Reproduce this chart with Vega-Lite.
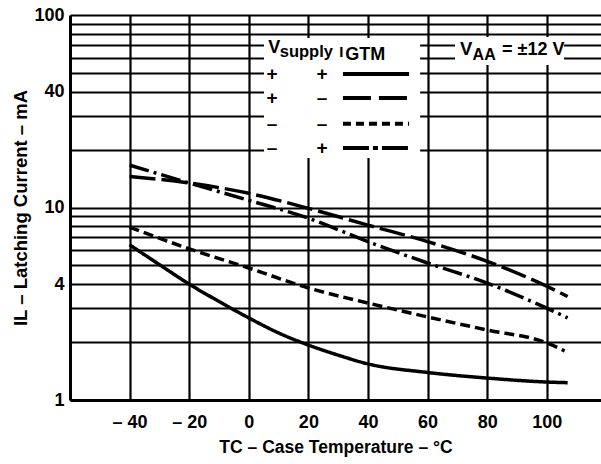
{
  "$schema": "https://vega.github.io/schema/vega-lite/v6.json",
  "width": 531,
  "height": 385,
  "autosize": {"type": "none"},
  "padding": {"left": 70, "top": 15, "right": 0, "bottom": 64},
  "background": "white",
  "config": {
    "view": {"stroke": null},
    "font": "Liberation Sans",
    "text": {"font": "Liberation Sans", "fontWeight": "bold", "color": "black"}
  },
  "layer": [
    {
      "data": {"values": [
        {"series": "+/+", "t": -40, "il": 6.4},
        {"series": "+/+", "t": -30, "il": 5.05},
        {"series": "+/+", "t": -20, "il": 4.0},
        {"series": "+/+", "t": -10, "il": 3.25},
        {"series": "+/+", "t": 0, "il": 2.67},
        {"series": "+/+", "t": 10, "il": 2.23},
        {"series": "+/+", "t": 20, "il": 1.93},
        {"series": "+/+", "t": 30, "il": 1.71},
        {"series": "+/+", "t": 40, "il": 1.54},
        {"series": "+/+", "t": 60, "il": 1.39},
        {"series": "+/+", "t": 80, "il": 1.30},
        {"series": "+/+", "t": 100, "il": 1.24},
        {"series": "+/+", "t": 107, "il": 1.23},
        {"series": "+/-", "t": -40, "il": 14.5},
        {"series": "+/-", "t": -20, "il": 13.4},
        {"series": "+/-", "t": 0, "il": 11.85},
        {"series": "+/-", "t": 20, "il": 9.9},
        {"series": "+/-", "t": 40, "il": 8.1},
        {"series": "+/-", "t": 60, "il": 6.65},
        {"series": "+/-", "t": 80, "il": 5.25},
        {"series": "+/-", "t": 100, "il": 3.9},
        {"series": "+/-", "t": 107, "il": 3.45},
        {"series": "-/-", "t": -40, "il": 7.9},
        {"series": "-/-", "t": -20, "il": 6.1},
        {"series": "-/-", "t": 0, "il": 4.85},
        {"series": "-/-", "t": 20, "il": 3.82},
        {"series": "-/-", "t": 40, "il": 3.19},
        {"series": "-/-", "t": 60, "il": 2.7},
        {"series": "-/-", "t": 80, "il": 2.31},
        {"series": "-/-", "t": 100, "il": 1.98},
        {"series": "-/-", "t": 106, "il": 1.80},
        {"series": "-/+", "t": -40, "il": 16.6},
        {"series": "-/+", "t": -20, "il": 13.4},
        {"series": "-/+", "t": 0, "il": 10.9},
        {"series": "-/+", "t": 20, "il": 8.8},
        {"series": "-/+", "t": 40, "il": 6.65},
        {"series": "-/+", "t": 60, "il": 5.15},
        {"series": "-/+", "t": 80, "il": 4.05},
        {"series": "-/+", "t": 100, "il": 3.0},
        {"series": "-/+", "t": 107, "il": 2.67}
      ]},
      "mark": {"type": "line", "color": "black", "strokeWidth": 3.5, "interpolate": "monotone", "strokeCap": "butt"},
      "encoding": {
        "x": {
          "field": "t", "type": "quantitative",
          "scale": {"domain": [-60, 118.2], "nice": false, "zero": false},
          "axis": {
            "values": [-40, -20, 0, 20, 40, 60, 80, 100],
            "labelExpr": "datum.value < 0 ? '\u2013 ' + abs(datum.value) : datum.label",
            "grid": true, "gridColor": "black", "gridWidth": 2.2, "gridOpacity": 1,
            "domain": true, "domainColor": "black", "domainWidth": 3,
            "ticks": false,
            "labelFont": "Liberation Sans", "labelFontSize": 18, "labelFontWeight": "bold", "labelColor": "black",
            "labelPadding": 13,
            "title": "TC \u2013 Case Temperature \u2013 \u00b0C",
            "titleFont": "Liberation Sans", "titleFontSize": 17.5, "titleFontWeight": "bold", "titleColor": "black",
            "titlePadding": 7
          }
        },
        "y": {
          "field": "il", "type": "quantitative",
          "scale": {"type": "log", "domain": [1, 100], "nice": false},
          "axis": {
            "values": [1, 2, 3, 4, 5, 6, 7, 8, 9, 10, 20, 30, 40, 50, 60, 70, 80, 90, 100],
            "labelExpr": "indexof([1, 4, 10, 40, 100], datum.value) >= 0 ? '' + datum.value : ''",
            "grid": true, "gridColor": "black", "gridWidth": 2.2, "gridOpacity": 1,
            "domain": true, "domainColor": "black", "domainWidth": 3,
            "ticks": false,
            "labelFont": "Liberation Sans", "labelFontSize": 18, "labelFontWeight": "bold", "labelColor": "black",
            "labelPadding": 6, "labelBaseline": "middle",
            "title": "IL \u2013 Latching Current \u2013 mA",
            "titleFont": "Liberation Sans", "titleFontSize": 18.5, "titleFontWeight": "bold", "titleColor": "black",
            "titlePadding": 3
          }
        },
        "strokeDash": {
          "field": "series", "type": "nominal",
          "scale": {"domain": ["+/+", "+/-", "-/-", "-/+"], "range": [[1, 0], [26, 6], [10, 5], [20, 5, 3, 5]]},
          "legend": null
        }
      }
    },
    {
      "data": {"values": [{}]},
      "mark": {"type": "rect", "fill": "white"},
      "encoding": {
        "x": {"datum": 5.1, "type": "quantitative"},
        "x2": {"datum": 57.5},
        "y": {"datum": 76, "type": "quantitative"},
        "y2": {"datum": 18.1}
      }
    },
    {
      "data": {"values": [{}]},
      "mark": {"type": "rect", "fill": "white"},
      "encoding": {
        "x": {"datum": 69.2, "type": "quantitative"},
        "x2": {"datum": 105.8},
        "y": {"datum": 76.9, "type": "quantitative"},
        "y2": {"datum": 55.0}
      }
    },
    {
      "data": {"values": [{}]},
      "mark": {"type": "text", "text": "V", "fontSize": 18, "align": "left", "baseline": "alphabetic"},
      "encoding": {"x": {"datum": 6.5, "type": "quantitative"}, "y": {"datum": 63.5, "type": "quantitative"}}
    },
    {
      "data": {"values": [{}]},
      "mark": {"type": "text", "text": "supply", "fontSize": 16.5, "align": "left", "baseline": "alphabetic", "dy": 4},
      "encoding": {"x": {"datum": 10.4, "type": "quantitative"}, "y": {"datum": 63.5, "type": "quantitative"}}
    },
    {
      "data": {"values": [{}]},
      "mark": {"type": "text", "text": "I", "fontSize": 15, "align": "left", "baseline": "alphabetic", "dy": 4},
      "encoding": {"x": {"datum": 30.4, "type": "quantitative"}, "y": {"datum": 63.5, "type": "quantitative"}}
    },
    {
      "data": {"values": [{}]},
      "mark": {"type": "text", "text": "GTM", "fontSize": 18, "align": "left", "baseline": "alphabetic", "dy": 7},
      "encoding": {"x": {"datum": 32.4, "type": "quantitative"}, "y": {"datum": 63.5, "type": "quantitative"}}
    },
    {
      "data": {"values": [{}]},
      "mark": {"type": "text", "text": "+", "fontSize": 19, "align": "center", "baseline": "middle"},
      "encoding": {"x": {"datum": 7.8, "type": "quantitative"}, "y": {"datum": 49.4, "type": "quantitative"}}
    },
    {
      "data": {"values": [{}]},
      "mark": {"type": "text", "text": "+", "fontSize": 19, "align": "center", "baseline": "middle"},
      "encoding": {"x": {"datum": 24.6, "type": "quantitative"}, "y": {"datum": 49.4, "type": "quantitative"}}
    },
    {
      "data": {"values": [{}]},
      "mark": {"type": "text", "text": "+", "fontSize": 19, "align": "center", "baseline": "middle"},
      "encoding": {"x": {"datum": 7.8, "type": "quantitative"}, "y": {"datum": 37.0, "type": "quantitative"}}
    },
    {
      "data": {"values": [{}]},
      "mark": {"type": "text", "text": "\u2013", "fontSize": 19, "align": "center", "baseline": "middle"},
      "encoding": {"x": {"datum": 24.6, "type": "quantitative"}, "y": {"datum": 37.0, "type": "quantitative"}}
    },
    {
      "data": {"values": [{}]},
      "mark": {"type": "text", "text": "\u2013", "fontSize": 19, "align": "center", "baseline": "middle"},
      "encoding": {"x": {"datum": 7.8, "type": "quantitative"}, "y": {"datum": 27.2, "type": "quantitative"}}
    },
    {
      "data": {"values": [{}]},
      "mark": {"type": "text", "text": "\u2013", "fontSize": 19, "align": "center", "baseline": "middle"},
      "encoding": {"x": {"datum": 24.6, "type": "quantitative"}, "y": {"datum": 27.2, "type": "quantitative"}}
    },
    {
      "data": {"values": [{}]},
      "mark": {"type": "text", "text": "\u2013", "fontSize": 19, "align": "center", "baseline": "middle"},
      "encoding": {"x": {"datum": 7.8, "type": "quantitative"}, "y": {"datum": 20.4, "type": "quantitative"}}
    },
    {
      "data": {"values": [{}]},
      "mark": {"type": "text", "text": "+", "fontSize": 19, "align": "center", "baseline": "middle"},
      "encoding": {"x": {"datum": 24.6, "type": "quantitative"}, "y": {"datum": 20.4, "type": "quantitative"}}
    },
    {
      "data": {"values": [{}]},
      "mark": {"type": "rule", "color": "black", "strokeWidth": 4, "strokeCap": "butt"},
      "encoding": {"x": {"datum": 31.6, "type": "quantitative"}, "x2": {"datum": 53.8}, "y": {"datum": 49.4, "type": "quantitative"}}
    },
    {
      "data": {"values": [{}]},
      "mark": {"type": "rule", "color": "black", "strokeWidth": 4, "strokeCap": "butt", "strokeDash": [28, 8]},
      "encoding": {"x": {"datum": 31.6, "type": "quantitative"}, "x2": {"datum": 53.8}, "y": {"datum": 37.0, "type": "quantitative"}}
    },
    {
      "data": {"values": [{}]},
      "mark": {"type": "rule", "color": "black", "strokeWidth": 4, "strokeCap": "butt", "strokeDash": [8, 5]},
      "encoding": {"x": {"datum": 31.6, "type": "quantitative"}, "x2": {"datum": 53.8}, "y": {"datum": 27.2, "type": "quantitative"}}
    },
    {
      "data": {"values": [{}]},
      "mark": {"type": "rule", "color": "black", "strokeWidth": 4, "strokeCap": "butt", "strokeDash": [26, 4, 5, 4]},
      "encoding": {"x": {"datum": 31.6, "type": "quantitative"}, "x2": {"datum": 53.8}, "y": {"datum": 20.4, "type": "quantitative"}}
    },
    {
      "data": {"values": [{}]},
      "mark": {"type": "text", "text": "V", "fontSize": 18.5, "align": "left", "baseline": "alphabetic"},
      "encoding": {"x": {"datum": 70.9, "type": "quantitative"}, "y": {"datum": 61.9, "type": "quantitative"}}
    },
    {
      "data": {"values": [{}]},
      "mark": {"type": "text", "text": "AA", "fontSize": 16, "align": "left", "baseline": "alphabetic", "dy": 5},
      "encoding": {"x": {"datum": 75.1, "type": "quantitative"}, "y": {"datum": 61.9, "type": "quantitative"}}
    },
    {
      "data": {"values": [{}]},
      "mark": {"type": "text", "text": "= \u00b112 V", "fontSize": 18, "align": "left", "baseline": "alphabetic"},
      "encoding": {"x": {"datum": 85.0, "type": "quantitative"}, "y": {"datum": 61.9, "type": "quantitative"}}
    }
  ]
}
